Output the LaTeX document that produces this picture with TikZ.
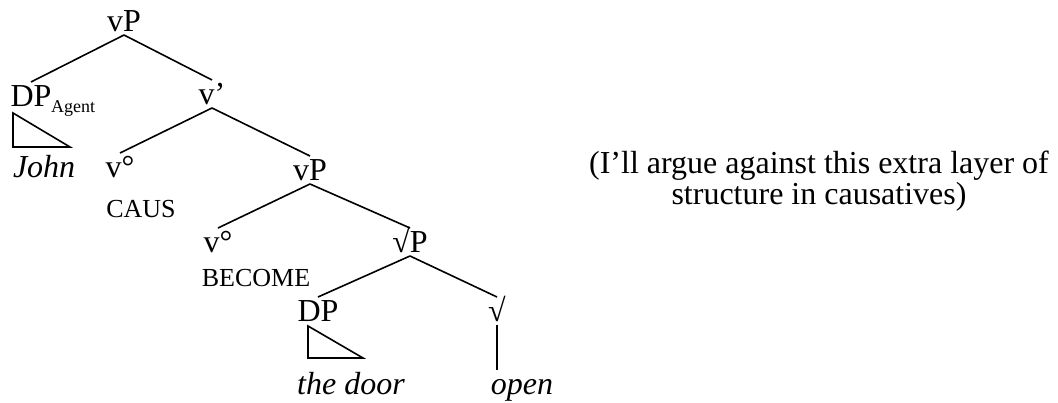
\documentclass[tikz,border=0pt]{standalone}
\usepackage{fontspec}
\setmainfont{Liberation Serif}
\usetikzlibrary{positioning}
\tikzset{
	every node/.style = {font=\fontsize{32}{31}\selectfont},
	cat/.style = {inner sep=0pt, outer sep=3pt, text height=22pt, text depth=0pt, anchor=base},
	small/.style = {font=\fontsize{26}{26}\selectfont, inner sep=0pt, anchor=base},
	branch/.style = {line width=1.6pt, black}
}

\begin{document}
\begin{tikzpicture}[x=1pt, y=-1pt]
		\useasboundingbox (0,0) rectangle (1058,403);
		% depth 0
		\node[cat] (vp) at (124,32) {vP};
		% depth 1
		\node[cat] (dpa) at (31,107) {DP};
		\node[small, font=\fontsize{18}{18}\selectfont, anchor=base west] (agent) at (51,113) {Agent};
		\node[cat] (vbar) at (212,105) {v’};
		% depth 2
		\node[cat, anchor=base west] (john) at (10,178) {\itshape John};
		\node[cat] (vcaus) at (120,178) {v°};
		\node[small] (caus) at (141,218) {CAUS};
		\node[cat] (vp2) at (310,181) {vP};
		% depth 3
		\node[cat] (vbec) at (218,253) {v°};
		\node[small] (become) at (256,287) {BECOME};
		\node[cat] (rootp) at (410,253) {√P};
		% depth 4
		\node[cat] (dp) at (318,322) {DP};
		\node[cat] (root) at (497,322) {√};
		\node[cat] (door) at (351,395) {\itshape the door};
		\node[cat] (open) at (522,395) {\itshape open};

		\foreach \a/\b in {vp/dpa, vp/vbar, vbar/vcaus, vbar/vp2, vp2/vbec, vp2/rootp, rootp/dp, rootp/root}
			\draw[branch] (\a.south) -- (\b.north);
		\draw[branch] (root.south) -- (root.south |- open.north);

		% triangles
		\draw[branch] (13,113) -- (13,147) -- (70,147) -- cycle;
		\draw[branch] (308,326) -- (308,358) -- (363,358) -- cycle;

		\node[align=center, inner sep=0pt, anchor=north] (note) at (819,151)
			{(I’ll argue against this extra layer of\\ structure in causatives)};
	\end{tikzpicture}
\end{document}
